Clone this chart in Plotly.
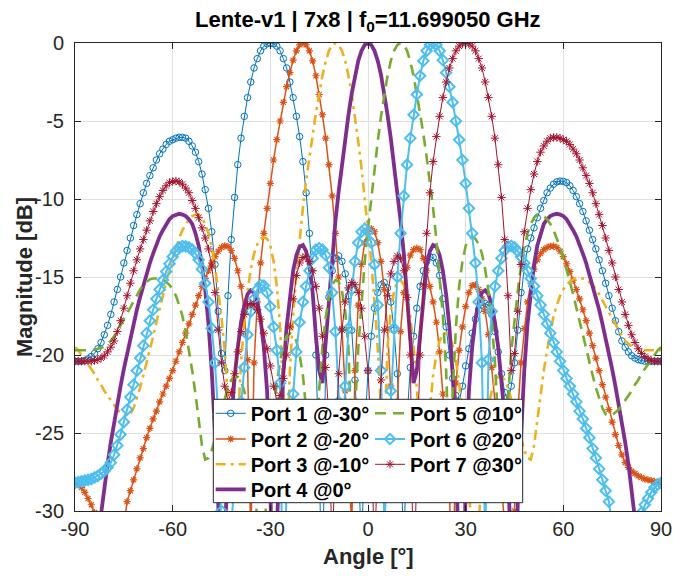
import plotly.graph_objects as go

# Beam patterns of the 7x8 lens, one trace per feed port (dB, normalised)
angle_deg = list(range(-90, 91))

port1_db = [
    -20.4, -20.4, -20.4, -20.35, -20.25, -20.1, -19.9, -19.6, -19.2, -18.7,
    -18.1, -17.4, -16.6, -15.8, -15.0, -14.1, -13.3, -12.5, -11.7, -11.0,
    -10.3, -9.6, -9.0, -8.5, -8.0, -7.5, -7.1, -6.8, -6.5, -6.3,
    -6.2, -6.1, -6.05, -6.05, -6.1, -6.3, -6.6, -7.0, -7.6, -8.4,
    -9.4, -10.6, -12.1, -14.2, -17.2, -19.9, -21.0, -16.2, -12.6, -9.9,
    -7.8, -6.1, -4.7, -3.5, -2.5, -1.6, -1.0, -0.5, -0.2, -0.05,
    0.0, -0.05, -0.2, -0.5, -1.0, -1.6, -2.5, -3.5, -4.7, -6.0,
    -7.6, -9.6, -12.2, -15.5, -20.0, -27.0, -36.0, -20.0, -16.3, -14.6,
    -13.8, -13.65, -14.0, -14.8, -16.2, -18.4, -21.6, -26.0, -33.0, -25.0,
    -21.0, -18.8, -17.0, -16.0, -15.5, -15.35, -15.7, -16.6, -18.4, -21.2,
    -25.5, -33.0, -24.0, -20.8, -18.8, -17.0, -15.6, -14.6, -14.0, -13.7,
    -13.75, -14.1, -14.9, -16.4, -18.2, -20.0, -21.5, -22.6, -23.0, -22.0,
    -20.7, -19.6, -18.6, -17.7, -17.1, -16.8, -16.7, -16.8, -17.4, -18.5,
    -19.8, -21.2, -22.4, -23.0, -22.0, -20.5, -18.4, -16.0, -14.3, -13.2,
    -12.5, -11.85, -11.2, -10.6, -10.1, -9.6, -9.3, -9.05, -8.9, -8.85,
    -8.87, -8.95, -9.15, -9.45, -9.85, -10.3, -10.8, -11.4, -12.0, -12.6,
    -13.2, -13.9, -14.6, -15.4, -16.2, -17.0, -17.8, -18.5, -19.1, -19.5,
    -19.8, -20.05, -20.2, -20.3, -20.35, -20.4, -20.4, -20.4, -20.4, -20.4,
    -20.4,
]

port2_db = [
    -28.2, -28.3, -28.5, -28.8, -29.2, -29.6, -30.1, -31.0, -32.5, -34.5,
    -37.5, -42.0, -45.0, -40.0, -35.0, -31.0, -29.4, -28.7, -28.0, -27.3,
    -26.6, -26.0, -25.3, -24.7, -24.1, -23.6, -23.0, -22.5, -22.0, -21.5,
    -21.0, -20.4, -19.8, -19.2, -18.6, -18.0, -17.4, -16.8, -16.2, -15.6,
    -15.1, -14.6, -14.1, -13.7, -13.35, -13.1, -13.0, -13.05, -13.3, -13.8,
    -14.6, -15.6, -17.2, -20.3, -32.0, -20.5, -16.6, -14.1, -12.2, -10.6,
    -9.0, -7.5, -6.2, -5.0, -3.8, -2.8, -1.9, -1.1, -0.5, -0.12,
    0.0, -0.12, -0.5, -1.15, -2.1, -3.3, -4.6, -6.1, -7.8, -9.8,
    -12.2, -15.0, -18.3, -22.3, -27.0, -31.0, -21.0, -16.8, -14.2, -12.8,
    -12.1, -11.9, -12.1, -12.8, -14.0, -15.8, -18.3, -22.0, -26.5, -23.0,
    -18.5, -16.0, -14.4, -13.6, -13.25, -13.15, -13.25, -13.8, -14.6, -15.6,
    -16.6, -17.9, -19.8, -22.5, -26.0, -28.0, -40.0, -21.8, -19.7, -18.2,
    -16.9, -16.0, -15.55, -15.5, -15.8, -16.4, -17.2, -18.7, -20.8, -23.0,
    -25.5, -28.0, -31.0, -35.0, -40.0, -30.0, -23.8, -20.5, -18.3, -16.6,
    -15.4, -14.5, -13.9, -13.5, -13.25, -13.1, -13.03, -13.02, -13.1, -13.35,
    -13.7, -14.15, -14.65, -15.2, -15.8, -16.4, -17.1, -17.8, -18.6, -19.4,
    -20.2, -21.0, -21.9, -22.7, -23.5, -24.3, -25.1, -25.8, -26.4, -26.9,
    -27.2, -27.45, -27.6, -27.75, -27.85, -27.95, -28.0, -28.05, -28.1, -28.15,
    -28.2,
]

port3_db = [
    -19.5, -19.7, -20.0, -20.3, -20.6, -20.9, -21.2, -21.6, -21.9, -22.3,
    -22.6, -22.9, -23.2, -23.5, -23.7, -23.85, -23.9, -23.8, -23.4, -22.8,
    -22.1, -21.3, -20.5, -19.6, -18.8, -17.9, -17.0, -16.1, -15.3, -14.5,
    -13.8, -13.1, -12.5, -12.0, -11.6, -11.3, -11.1, -11.0, -11.0, -11.2,
    -11.6, -12.2, -13.1, -14.3, -15.9, -17.6, -19.8, -22.8, -27.0, -29.0,
    -24.5, -20.5, -17.8, -15.9, -14.5, -13.5, -12.9, -12.55, -12.45, -12.55,
    -13.0, -14.0, -15.6, -18.2, -22.5, -27.0, -21.0, -17.5, -14.8, -12.6,
    -10.6, -8.8, -7.3, -5.8, -4.5, -3.3, -2.1, -1.2, -0.5, -0.12,
    0.0, -0.13, -0.5, -1.15, -2.1, -3.3, -4.7, -6.3, -8.0, -9.9,
    -11.9, -14.0, -16.6, -19.6, -23.5, -26.0, -19.5, -17.2, -15.9, -15.3,
    -15.2, -15.5, -16.3, -17.6, -19.5, -22.0, -25.0, -27.5, -26.5, -23.5,
    -21.3, -20.0, -19.1, -18.7, -18.6, -18.8, -19.4, -20.4, -21.8, -23.6,
    -25.8, -28.5, -32.0, -40.0, -31.0, -27.0, -24.8, -23.3, -22.3, -21.7,
    -21.4, -21.4, -21.6, -22.1, -22.8, -23.6, -24.5, -25.4, -26.1, -26.6,
    -26.7, -25.8, -24.2, -22.5, -21.0, -19.7, -18.5, -17.5, -16.8, -16.2,
    -15.8, -15.5, -15.3, -15.15, -15.1, -15.1, -15.1, -15.15, -15.3, -15.5,
    -15.8, -16.1, -16.5, -16.9, -17.3, -17.7, -18.1, -18.5, -18.8, -19.1,
    -19.3, -19.45, -19.55, -19.6, -19.65, -19.7, -19.7, -19.7, -19.7, -19.7,
    -19.7,
]

port4_db = [
    -46.5, -44.1, -41.8, -39.6, -37.5, -35.5, -33.6, -31.8, -30.1, -28.5,
    -27.0, -25.6, -24.3, -23.1, -22.0, -20.9, -19.9, -18.9, -18.0, -17.1,
    -16.3, -15.5, -14.8, -14.1, -13.5, -12.9, -12.4, -12.0, -11.6, -11.3,
    -11.1, -11.0, -10.95, -11.0, -11.1, -11.3, -11.6, -12.2, -13.0, -14.2,
    -15.8, -18.0, -21.0, -25.0, -29.5, -40.0, -31.5, -27.0, -24.0, -21.5,
    -19.5, -17.9, -16.8, -16.1, -15.85, -16.0, -16.6, -17.7, -19.5, -22.3,
    -27.5, -45.0, -31.0, -25.3, -21.2, -18.2, -16.1, -14.6, -13.6, -13.05,
    -12.95, -13.35, -14.3, -16.0, -18.8, -21.0, -21.8, -19.0, -16.3, -13.5,
    -11.4, -9.5, -7.75, -6.1, -4.6, -3.25, -2.05, -1.15, -0.5, -0.12,
    0.0, -0.12, -0.5, -1.15, -2.05, -3.25, -4.6, -6.1, -7.75, -9.5,
    -11.4, -13.5, -16.3, -19.0, -21.8, -21.0, -18.8, -16.0, -14.3, -13.35,
    -12.95, -13.05, -13.6, -14.6, -16.1, -18.2, -21.2, -25.3, -31.0, -45.0,
    -27.5, -22.3, -19.5, -17.7, -16.6, -16.0, -15.85, -16.1, -16.8, -17.9,
    -19.5, -21.5, -24.0, -27.0, -31.5, -40.0, -29.5, -25.0, -21.0, -18.0,
    -15.8, -14.2, -13.0, -12.2, -11.6, -11.3, -11.1, -11.0, -10.95, -11.0,
    -11.1, -11.3, -11.6, -12.0, -12.4, -12.9, -13.5, -14.1, -14.8, -15.5,
    -16.3, -17.1, -18.0, -18.9, -19.9, -20.9, -22.0, -23.1, -24.3, -25.6,
    -27.0, -28.5, -30.1, -31.8, -33.6, -35.5, -37.5, -39.6, -41.8, -44.1,
    -46.5,
]

port5_db = [
    -19.7, -19.7, -19.7, -19.7, -19.7, -19.7, -19.65, -19.6, -19.55, -19.45,
    -19.3, -19.1, -18.8, -18.5, -18.1, -17.7, -17.3, -16.9, -16.5, -16.1,
    -15.8, -15.5, -15.3, -15.15, -15.1, -15.1, -15.1, -15.15, -15.3, -15.5,
    -15.8, -16.2, -16.8, -17.5, -18.5, -19.7, -21.0, -22.5, -24.2, -25.8,
    -26.7, -26.6, -26.1, -25.4, -24.5, -23.6, -22.8, -22.1, -21.6, -21.4,
    -21.4, -21.7, -22.3, -23.3, -24.8, -27.0, -31.0, -40.0, -32.0, -28.5,
    -25.8, -23.6, -21.8, -20.4, -19.4, -18.8, -18.6, -18.7, -19.1, -20.0,
    -21.3, -23.5, -26.5, -27.5, -25.0, -22.0, -19.5, -17.6, -16.3, -15.5,
    -15.2, -15.3, -15.9, -17.2, -19.5, -26.0, -23.5, -19.6, -16.6, -14.0,
    -11.9, -9.9, -8.0, -6.3, -4.7, -3.3, -2.1, -1.15, -0.5, -0.13,
    0.0, -0.12, -0.5, -1.2, -2.1, -3.3, -4.5, -5.8, -7.3, -8.8,
    -10.6, -12.6, -14.8, -17.5, -21.0, -27.0, -22.5, -18.2, -15.6, -14.0,
    -13.0, -12.55, -12.45, -12.55, -12.9, -13.5, -14.5, -15.9, -17.8, -20.5,
    -24.5, -29.0, -27.0, -22.8, -19.8, -17.6, -15.9, -14.3, -13.1, -12.2,
    -11.6, -11.2, -11.0, -11.0, -11.1, -11.3, -11.6, -12.0, -12.5, -13.1,
    -13.8, -14.5, -15.3, -16.1, -17.0, -17.9, -18.8, -19.6, -20.5, -21.3,
    -22.1, -22.8, -23.4, -23.8, -23.9, -23.85, -23.7, -23.5, -23.2, -22.9,
    -22.6, -22.3, -21.9, -21.6, -21.2, -20.9, -20.6, -20.3, -20.0, -19.7,
    -19.5,
]

port6_db = [
    -28.2, -28.15, -28.1, -28.05, -28.0, -27.95, -27.85, -27.75, -27.6, -27.45,
    -27.2, -26.9, -26.4, -25.8, -25.1, -24.3, -23.5, -22.7, -21.9, -21.0,
    -20.2, -19.4, -18.6, -17.8, -17.1, -16.4, -15.8, -15.2, -14.65, -14.15,
    -13.7, -13.35, -13.1, -13.02, -13.03, -13.1, -13.25, -13.5, -13.9, -14.5,
    -15.4, -16.6, -18.3, -20.5, -23.8, -30.0, -40.0, -35.0, -31.0, -28.0,
    -25.5, -23.0, -20.8, -18.7, -17.2, -16.4, -15.8, -15.5, -15.55, -16.0,
    -16.9, -18.2, -19.7, -21.8, -40.0, -28.0, -26.0, -22.5, -19.8, -17.9,
    -16.6, -15.6, -14.6, -13.8, -13.25, -13.15, -13.25, -13.6, -14.4, -16.0,
    -18.5, -23.0, -26.5, -22.0, -18.3, -15.8, -14.0, -12.8, -12.1, -11.9,
    -12.1, -12.8, -14.2, -16.8, -21.0, -31.0, -27.0, -22.3, -18.3, -15.0,
    -12.2, -9.8, -7.8, -6.1, -4.6, -3.3, -2.1, -1.15, -0.5, -0.12,
    0.0, -0.12, -0.5, -1.1, -1.9, -2.8, -3.8, -5.0, -6.2, -7.5,
    -9.0, -10.6, -12.2, -14.1, -16.6, -20.5, -32.0, -20.3, -17.2, -15.6,
    -14.6, -13.8, -13.3, -13.05, -13.0, -13.1, -13.35, -13.7, -14.1, -14.6,
    -15.1, -15.6, -16.2, -16.8, -17.4, -18.0, -18.6, -19.2, -19.8, -20.4,
    -21.0, -21.5, -22.0, -22.5, -23.0, -23.6, -24.1, -24.7, -25.3, -26.0,
    -26.6, -27.3, -28.0, -28.7, -29.4, -31.0, -35.0, -40.0, -45.0, -42.0,
    -37.5, -34.5, -32.5, -31.0, -30.1, -29.6, -29.2, -28.8, -28.5, -28.3,
    -28.2,
]

port7_db = [
    -20.4, -20.4, -20.4, -20.4, -20.4, -20.4, -20.35, -20.3, -20.2, -20.05,
    -19.8, -19.5, -19.1, -18.5, -17.8, -17.0, -16.2, -15.4, -14.6, -13.9,
    -13.2, -12.6, -12.0, -11.4, -10.8, -10.3, -9.85, -9.45, -9.15, -8.95,
    -8.87, -8.85, -8.9, -9.05, -9.3, -9.6, -10.1, -10.6, -11.2, -11.85,
    -12.5, -13.2, -14.3, -16.0, -18.4, -20.5, -22.0, -23.0, -22.4, -21.2,
    -19.8, -18.5, -17.4, -16.8, -16.7, -16.8, -17.1, -17.7, -18.6, -19.6,
    -20.7, -22.0, -23.0, -22.6, -21.5, -20.0, -18.2, -16.4, -14.9, -14.1,
    -13.75, -13.7, -14.0, -14.6, -15.6, -17.0, -18.8, -20.8, -24.0, -33.0,
    -25.5, -21.2, -18.4, -16.6, -15.7, -15.35, -15.5, -16.0, -17.0, -18.8,
    -21.0, -25.0, -33.0, -26.0, -21.6, -18.4, -16.2, -14.8, -14.0, -13.65,
    -13.8, -14.6, -16.3, -20.0, -36.0, -27.0, -20.0, -15.5, -12.2, -9.6,
    -7.6, -6.0, -4.7, -3.5, -2.5, -1.6, -1.0, -0.5, -0.2, -0.05,
    0.0, -0.05, -0.2, -0.5, -1.0, -1.6, -2.5, -3.5, -4.7, -6.1,
    -7.8, -9.9, -12.6, -16.2, -21.0, -19.9, -17.2, -14.2, -12.1, -10.6,
    -9.4, -8.4, -7.6, -7.0, -6.6, -6.3, -6.1, -6.05, -6.05, -6.1,
    -6.2, -6.3, -6.5, -6.8, -7.1, -7.5, -8.0, -8.5, -9.0, -9.6,
    -10.3, -11.0, -11.7, -12.5, -13.3, -14.1, -15.0, -15.8, -16.6, -17.4,
    -18.1, -18.7, -19.2, -19.6, -19.9, -20.1, -20.25, -20.35, -20.4, -20.4,
    -20.4,
]

port_names = [
    "Port 1 @-30°", "Port 2 @-20°", "Port 3 @-10°", "Port 4 @0°",
    "Port 5 @10°", "Port 6 @20°", "Port 7 @30°",
]
port_values = [port1_db, port2_db, port3_db, port4_db, port5_db, port6_db, port7_db]

x_tick_vals = [-90, -60, -30, 0, 30, 60, 90]
x_tick_text = ["-90", "-60", "-30", "0", "30", "60", "90"]
y_tick_vals = [-30, -25, -20, -15, -10, -5, 0]
y_tick_text = ["-30", "-25", "-20", "-15", "-10", "-5", "0"]

FONT = "Liberation Sans, Arial, Helvetica, sans-serif"
AXIS_GREY = "#262626"

# colour, line width, dash, marker spec, legend row
styles = [
    dict(color="#0072BD", width=1.0, dash="solid",
         marker=dict(symbol="circle-open", size=6.5, line=dict(width=1.0)), legend="legend"),
    dict(color="#D95319", width=1.5, dash="solid",
         marker=dict(symbol="asterisk-open", size=6, line=dict(width=1.2)), legend="legend2"),
    dict(color="#EDB120", width=2.6, dash="10px,5px,3px,5px",
         marker=None, legend="legend3"),
    dict(color="#7E2F8E", width=3.8, dash="solid",
         marker=None, legend="legend4"),
    dict(color="#77AC30", width=2.6, dash="11px,7px",
         marker=None, legend="legend"),
    dict(color="#4DBEEE", width=2.0, dash="solid",
         marker=dict(symbol="diamond-open", size=8, line=dict(width=2.0)), legend="legend2"),
    dict(color="#A2142F", width=1.0, dash="solid",
         marker=dict(symbol="asterisk-open", size=7, line=dict(width=1.0)), legend="legend3"),
]

fig = go.Figure()
for name, values, st in zip(port_names, port_values, styles):
    has_marker = st["marker"] is not None
    marker = dict(st["marker"]) if has_marker else None
    if marker is not None:
        marker["color"] = st["color"]
        marker["line"] = dict(marker["line"], color=st["color"])
    fig.add_trace(go.Scatter(
        x=angle_deg, y=values, name=name,
        mode="lines+markers" if has_marker else "lines",
        line=dict(color=st["color"], width=st["width"], dash=st["dash"]),
        marker=marker,
        legend=st["legend"],
    ))

L, R, T, B = 75, 12, 43, 65
W, H = 673, 576
pw, ph = W - L - R, H - T - B


def px_x(px):
    return (px - L) / pw


def px_y(py):
    return 1 - (py - T) / ph


legend_common = dict(
    orientation="h", bgcolor="rgba(0,0,0,0)", borderwidth=0,
    font=dict(family=FONT, size=20, color="#000000", weight="bold"),
    entrywidth=114.3, entrywidthmode="pixels",
    xanchor="left", yanchor="middle", x=px_x(210.7),
    itemclick=False, itemdoubleclick=False,
)
row_centres = [413.3, 439.0, 464.3, 489.3]

fig.update_layout(
    width=W, height=H,
    margin=dict(l=L, r=R, t=T, b=B, pad=0, autoexpand=False),
    paper_bgcolor="white", plot_bgcolor="white",
    font=dict(family=FONT, color=AXIS_GREY),
    showlegend=True,
    legend=dict(legend_common, y=px_y(row_centres[0])),
    legend2=dict(legend_common, y=px_y(row_centres[1])),
    legend3=dict(legend_common, y=px_y(row_centres[2])),
    legend4=dict(legend_common, y=px_y(row_centres[3])),
    xaxis=dict(
        range=[-90, 90], tickmode="array", tickvals=x_tick_vals, ticktext=x_tick_text,
        showgrid=True, gridcolor="#DFDFDF", gridwidth=1, zeroline=False,
        showline=True, linecolor=AXIS_GREY, linewidth=1, mirror="ticks",
        ticks="inside", ticklen=6, tickcolor=AXIS_GREY,
        tickfont=dict(family=FONT, size=20, color=AXIS_GREY),
    ),
    yaxis=dict(
        range=[-30, 0], tickmode="array", tickvals=y_tick_vals, ticktext=y_tick_text,
        showgrid=True, gridcolor="#DFDFDF", gridwidth=1, zeroline=False,
        showline=True, linecolor=AXIS_GREY, linewidth=1, mirror="ticks",
        ticks="inside", ticklen=6, tickcolor=AXIS_GREY,
        tickfont=dict(family=FONT, size=20, color=AXIS_GREY),
        ticklabelstandoff=6,
    ),
    shapes=[dict(
        type="rect", xref="paper", yref="paper", layer="above",
        x0=px_x(213.3), x1=px_x(522.7), y0=px_y(502.7), y1=px_y(399.3),
        line=dict(color=AXIS_GREY, width=1), fillcolor="white",
    )],
    annotations=[
        dict(text="<b>Lente-v1 | 7x8 | f<sub>0</sub>=11.699050 GHz</b>",
             xref="paper", yref="paper", x=0.5, y=px_y(21), xanchor="center", yanchor="middle",
             showarrow=False, font=dict(family=FONT, size=22, color="#000000")),
        dict(text="<b>Angle [°]</b>",
             xref="paper", yref="paper", x=0.5, y=px_y(556), xanchor="center", yanchor="middle",
             showarrow=False, font=dict(family=FONT, size=22, color=AXIS_GREY)),
        dict(text="<b>Magnitude [dB]</b>", textangle=-90,
             xref="paper", yref="paper", x=px_x(24), y=0.5, xanchor="center", yanchor="middle",
             showarrow=False, font=dict(family=FONT, size=22, color=AXIS_GREY)),
    ],
)

fig.write_html("out.html")
